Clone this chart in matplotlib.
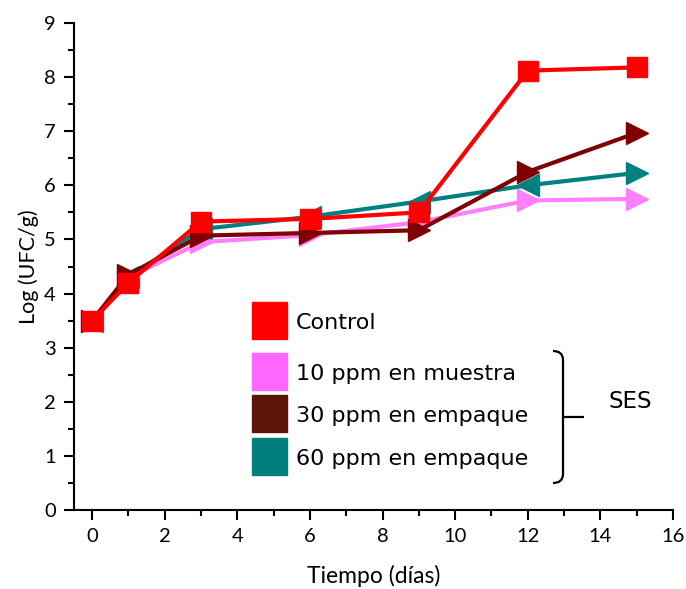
import matplotlib.pyplot as plt
from matplotlib.patches import Rectangle, PathPatch
from matplotlib.path import Path

# Datos
dias = [0, 1, 3, 6, 9, 12, 15]
control = [3.5, 4.2, 5.33, 5.38, 5.5, 8.12, 8.18]
ppm10 = [3.5, 4.3, 4.95, 5.08, 5.32, 5.72, 5.75]
ppm30 = [3.5, 4.35, 5.07, 5.12, 5.17, 6.25, 6.97]
ppm60 = [3.5, 4.3, 5.19, 5.42, 5.7, 6.0, 6.23]

etiquetas = ['Control', '10 ppm en muestra', '30 ppm en empaque', '60 ppm en empaque']
col_leyenda = ['#ff0000', '#ff66ff', '#5a1408', '#007f7f']

W, H = 686, 589
fig = plt.figure(figsize=(W / 100, H / 100), dpi=100)
ax = fig.add_axes([74 / W, 1 - 510 / H, (673 - 74) / W, (510 - 23) / H])

lw = 3
ms = 16
ax.plot(dias[:-1], ppm60[:-1], color='#008080', lw=lw, marker='<', ms=ms, zorder=2)
ax.plot(dias[-2:], ppm60[-2:], color='#008080', lw=lw, zorder=2)
ax.plot(dias[-1:], ppm60[-1:], color='#008080', ls='', marker='>', ms=ms, zorder=2)
ax.plot(dias, ppm10, color='#ff80ff', lw=lw, marker='>', ms=ms, zorder=3)
ax.plot(dias, ppm30, color='#800000', lw=lw, marker='>', ms=ms, zorder=4)
ax.plot(dias, control, color='#ff0000', lw=lw, marker='s', ms=14, zorder=5)

ax.set_xlim(-0.5, 16)
ax.set_ylim(0, 9)
ax.set_xticks(range(0, 17, 2))
ax.set_xticks(range(0, 17), minor=True)
ax.set_yticks(range(0, 10))
ax.set_yticks([i + 0.5 for i in range(9)], minor=True)
for s in ['top', 'right']:
    ax.spines[s].set_visible(False)
for s in ['left', 'bottom']:
    ax.spines[s].set_linewidth(1.5)
ax.tick_params(which='major', direction='out', length=7, width=1.5, labelsize=14.5, pad=6)
ax.tick_params(which='minor', direction='out', length=4, width=1.5)
for lab in ax.get_xticklabels() + ax.get_yticklabels():
    lab.set_family('Lato')
ax.set_xlabel('Tiempo (días)', fontsize=16.5, family='Lato', labelpad=14)
ax.set_ylabel('Log (UFC/g)', fontsize=15.5, family='Lato', labelpad=4)

# Leyenda manual
filas = [321, 372, 414, 457]
for y, c, t in zip(filas, col_leyenda, etiquetas):
    fig.patches.append(Rectangle((252 / W, 1 - (y + 18) / H), 35 / W, 37 / H,
                                 transform=fig.transFigure, color=c, figure=fig))
    fig.text(296 / W, 1 - (y + 2) / H, t, fontsize=16, family='DejaVu Sans', va='center')

# Llave
def p(x, y):
    return (x / W, 1 - y / H)

verts = [p(553, 351), p(563, 351), p(563, 360),
         p(563, 417),
         p(563, 474), p(563, 483), p(553, 483),
         p(562, 417), p(584, 417)]
codes = [Path.MOVETO, Path.CURVE3, Path.CURVE3,
         Path.LINETO,
         Path.LINETO, Path.CURVE3, Path.CURVE3,
         Path.MOVETO, Path.LINETO]
fig.patches.append(PathPatch(Path(verts, codes), transform=fig.transFigure,
                             fill=False, lw=1.6, color='black', figure=fig))
fig.text(608 / W, 1 - 401 / H, 'SES', fontsize=16.5, family='DejaVu Sans', va='center')

fig.savefig('out.png', dpi=100)
